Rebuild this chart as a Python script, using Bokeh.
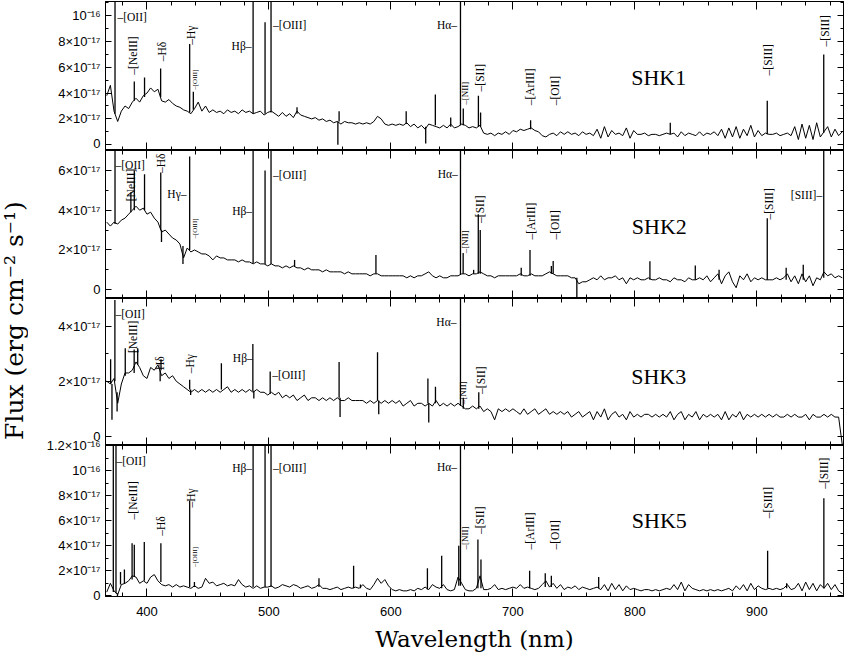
import math
from bokeh.plotting import figure
from bokeh.layouts import column, row
from bokeh.models import FixedTicker, LinearAxis, Range1d, ColumnDataSource, CustomLabelingPolicy
from bokeh.core.properties import value
from bokeh.embed import file_html
from bokeh.resources import INLINE

# ---------------- data (flux in units of 1e-17 erg cm^-2 s^-1) ----------------
WAVELENGTH = [
    367, 370, 373, 376, 379, 382, 385, 388, 391, 394,
    397, 400, 403, 406, 409, 412, 415, 418, 421, 424,
    427, 430, 433, 436, 439, 442, 445, 448, 451, 454,
    457, 460, 463, 466, 469, 472, 475, 478, 481, 484,
    487, 490, 493, 496, 499, 502, 505, 508, 511, 514,
    517, 520, 523, 526, 529, 532, 535, 538, 541, 544,
    547, 550, 553, 556, 559, 562, 565, 568, 571, 574,
    577, 580, 583, 586, 589, 592, 595, 598, 601, 604,
    607, 610, 613, 616, 619, 622, 625, 628, 631, 634,
    637, 640, 643, 646, 649, 652, 655, 658, 661, 664,
    667, 670, 673, 676, 679, 682, 685, 688, 691, 694,
    697, 700, 703, 706, 709, 712, 715, 718, 721, 724,
    727, 730, 733, 736, 739, 742, 745, 748, 751, 754,
    757, 760, 763, 766, 769, 772, 775, 778, 781, 784,
    787, 790, 793, 796, 799, 802, 805, 808, 811, 814,
    817, 820, 823, 826, 829, 832, 835, 838, 841, 844,
    847, 850, 853, 856, 859, 862, 865, 868, 871, 874,
    877, 880, 883, 886, 889, 892, 895, 898, 901, 904,
    907, 910, 913, 916, 919, 922, 925, 928, 931, 934,
    937, 940, 943, 946, 949, 952, 955, 958, 961, 964,
    967, 970]

FLUX_SHK1 = [
    3.8, 4.6, 2.6, 1.8, 2.6, 3.0, 2.8, 3.3, 3.6, 3.3,
    3.8, 4.0, 4.4, 4.1, 4.3, 3.4, 3.3, 3.5, 3.2, 3.0,
    2.9, 2.7, 2.6, 2.4, 2.8, 3.3, 2.6, 3.0, 2.5, 2.7,
    2.5, 2.6, 2.4, 2.7, 2.5, 2.6, 2.4, 2.7, 2.5, 2.6,
    2.4, 2.5, 2.6, 2.3, 2.5, 2.6, 2.4, 2.2, 2.5, 2.2,
    2.4, 2.1, 2.6, 2.3, 2.2, 2.1, 2.0, 2.1, 1.9, 2.0,
    1.8, 1.9, 1.7, 1.8, 1.6, 1.8, 1.7, 1.7, 1.6, 1.7,
    1.6, 1.7, 1.6, 1.8, 2.2, 2.0, 1.6, 1.5, 1.6, 1.5,
    1.6, 1.5, 1.7, 1.4, 1.6, 1.3, 1.5, 1.2, 1.6, 1.5,
    1.4, 1.3, 1.5, 1.3, 1.6, 1.3, 1.4, 1.6, 1.5, 1.3,
    1.4, 1.3, 1.5, 0.9, 0.8, 0.9, 0.7, 0.9, 0.8, 1.0,
    0.8, 1.1, 1.0, 1.2, 1.1, 1.2, 1.3, 1.1, 1.0, 0.7,
    0.6, 0.8, 0.9, 0.7, 1.0, 0.8, 1.0, 0.8, 0.9, 0.7,
    1.0, 0.8, 0.9, 0.7, 1.2, 0.5, 1.4, 0.6, 1.1, 0.8,
    0.9, 0.7, 1.3, 0.5, 1.1, 0.8, 0.8, 0.9, 0.7, 0.8,
    0.8, 0.7, 0.8, 0.9, 0.8, 0.9, 0.6, 1.0, 0.7, 0.9,
    0.8, 0.7, 1.0, 0.7, 0.9, 0.8, 1.0, 0.7, 1.2, 0.5,
    1.3, 0.6, 1.4, 0.5, 1.2, 0.7, 1.5, 0.6, 1.1, 0.7,
    0.9, 0.8, 0.8, 0.9, 0.7, 0.8, 0.9, 0.7, 1.4, 0.4,
    1.6, 0.5, 1.5, 0.4, 1.7, 0.6, 1.0, 1.4, 0.6, 1.2,
    0.7, 1.0]

FLUX_SHK2 = [
    3.4, 3.2, 3.4, 3.3, 3.5, 3.6, 3.8, 4.0, 4.2, 4.0,
    4.1, 3.8, 3.9, 3.6, 3.4, 2.9, 3.0, 2.8, 2.6, 2.5,
    2.3, 1.6, 2.1, 1.9, 2.0, 1.9, 1.8, 1.8, 1.7, 1.5,
    1.7, 1.6, 1.6, 1.5, 1.5, 1.5, 1.4, 1.5, 1.4, 1.4,
    1.3, 1.4, 1.3, 1.3, 1.2, 1.3, 1.2, 1.2, 1.1, 1.2,
    1.1, 1.2, 1.1, 1.1, 1.0, 1.1, 1.0, 1.0, 1.0, 0.9,
    1.0, 0.9, 0.9, 0.9, 0.9, 0.8, 0.9, 0.8, 0.8, 0.8,
    0.8, 0.8, 0.7, 0.8, 0.8, 0.7, 0.7, 0.7, 0.7, 0.7,
    0.7, 0.7, 0.6, 0.7, 0.6, 0.7, 0.7, 0.8, 0.9, 0.7,
    0.6, 0.7, 0.6, 0.6, 0.7, 0.7, 0.7, 0.8, 0.8, 0.7,
    0.8, 0.8, 0.9, 0.8, 0.7, 0.7, 0.6, 0.7, 0.7, 0.7,
    0.7, 0.7, 0.7, 0.8, 0.7, 0.7, 0.8, 0.7, 0.7, 0.7,
    0.8, 0.9, 0.8, 0.7, 0.7, 0.7, 0.7, 0.6, 0.6, 0.3,
    0.4, 0.4, 0.5, 0.6, 0.5, 0.7, 0.5, 0.6, 0.6, 0.7,
    0.5, 0.6, 0.3, 0.6, 0.5, 0.6, 0.5, 0.5, 0.6, 0.5,
    0.5, 0.6, 0.5, 0.5, 0.4, 0.6, 0.5, 0.5, 0.4, 0.6,
    0.5, 0.5, 0.6, 0.5, 0.7, 0.4, 0.6, 0.8, 0.3, 0.7,
    0.9, 0.4, 0.1, 0.7, 0.5, 0.8, 0.4, 0.6, 0.5, 0.6,
    0.5, 0.5, 0.5, 0.6, 0.5, 0.6, 0.8, 0.4, 0.7, 0.3,
    0.8, 0.4, 0.7, 0.2, 0.6, 0.5, 0.9, 0.7, 0.8, 0.6,
    0.7, 0.6]

FLUX_SHK3 = [
    2.0, 1.9, 2.1, 1.2, 1.9, 2.3, 2.3, 2.4, 2.7, 2.5,
    2.2, 2.1, 2.5, 2.4, 2.6, 2.2, 2.3, 2.1, 2.2, 2.0,
    1.9, 1.8, 1.7, 1.6, 1.7, 1.6, 1.7, 1.6, 1.7, 1.6,
    1.7, 1.6, 1.7, 1.8, 1.6, 1.7, 1.6, 1.7, 1.6, 1.7,
    1.6, 1.7, 1.6, 1.6, 1.5, 1.6, 1.5, 1.6, 1.4, 1.5,
    1.4, 1.5, 1.3, 1.4, 1.5, 1.3, 1.4, 1.4, 1.3, 1.4,
    1.3, 1.4, 1.3, 1.4, 1.3, 1.3, 1.4, 1.3, 1.3, 1.3,
    1.3, 1.2, 1.3, 1.2, 1.3, 1.2, 1.3, 1.2, 1.3, 1.2,
    1.3, 1.1, 1.2, 1.3, 1.1, 1.2, 1.2, 1.1, 1.2, 1.1,
    1.3, 1.1, 1.2, 1.1, 1.2, 1.1, 1.2, 1.1, 1.0, 1.0,
    1.1, 1.0, 1.1, 0.9, 1.0, 0.9, 0.6, 1.0, 0.9, 1.0,
    0.9, 1.0, 0.9, 0.8, 1.0, 0.8, 0.9, 1.0, 0.8, 0.9,
    1.0, 0.8, 0.9, 0.8, 0.9, 0.8, 0.9, 0.7, 0.8, 0.9,
    0.7, 0.8, 0.9, 0.6, 0.9, 0.7, 1.0, 0.6, 0.8, 0.9,
    0.7, 0.8, 0.6, 0.9, 0.7, 0.8, 0.7, 0.8, 0.8, 0.7,
    0.8, 0.7, 0.8, 0.7, 0.9, 0.6, 0.8, 0.9, 0.6, 0.8,
    0.7, 0.9, 0.6, 0.8, 0.7, 0.8, 0.7, 0.8, 0.6, 0.9,
    0.6, 0.8, 0.7, 0.9, 0.6, 0.8, 0.7, 0.8, 0.7, 0.8,
    0.7, 0.8, 0.7, 0.8, 0.7, 0.7, 0.8, 0.7, 0.8, 0.7,
    0.7, 0.8, 0.6, 0.8, 0.7, 0.7, 0.8, 0.7, 0.8, 0.7,
    0.7, -0.3]

FLUX_SHK5 = [
    0.3, 1.0, 0.4, 0.1, 0.9, 1.0, 1.2, 1.6, 1.5, 1.0,
    1.2, 1.0, 1.5, 1.7, 1.2, 0.9, 0.8, 0.9, 0.7, 0.9,
    0.7, 0.8, 0.7, 0.6, 0.8, 0.6, 0.7, 1.4, 1.0, 1.1,
    0.8, 0.9, 1.0, 0.8, 0.9, 0.8, 1.3, 0.9, 0.7, 0.8,
    0.6, 0.8, 0.6, 0.7, 0.7, 0.8, 0.6, 0.7, 0.9, 0.8,
    0.7, 0.9, 0.8, 0.6, 0.7, 0.8, 0.6, 0.7, 0.9, 0.6,
    0.6, 0.5, 0.6, 0.7, 0.5, 0.6, 0.7, 0.6, 0.7, 0.6,
    0.9, 0.6, 0.5, 0.9, 1.4, 1.0, 1.3, 0.8, 0.5, 0.4,
    0.5, 0.4, 0.4, 0.5, 0.4, 0.6, 0.5, 0.7, 0.5, 0.9,
    0.7, 0.6, 0.9, 0.5, 0.4, 0.5, 1.5, 1.0, 0.5, 0.4,
    0.4, 0.6, 1.6, 0.5, 0.5, 0.6, 0.9, 0.5, 0.6, 0.5,
    0.6, 0.7, 0.6, 0.9, 0.6, 0.7, 0.6, 0.5, 0.6, 0.9,
    1.2, 0.7, 1.0, 0.6, 0.9, 0.5, 0.7, 0.6, 0.8, 0.5,
    0.7, 0.6, 0.5, 0.6, 0.7, 0.5, 0.9, 0.4, 1.0, 0.5,
    0.9, 0.4, 0.8, 0.5, 0.6, 0.5, 0.4, 0.5, 0.5, 0.4,
    0.5, 0.4, 0.5, 0.6, 0.5, 0.9, 0.5, 1.1, 0.4, 0.9,
    0.6, 0.5, 0.4, 0.5, 0.4, 0.5, 0.4, 0.5, 0.4, 0.5,
    0.6, 0.4, 0.8, 0.5, 0.9, 0.4, 1.0, 0.5, 0.8, 0.6,
    0.5, 0.6, 0.5, 0.6, 0.5, 0.6, 0.9, 0.5, 0.6, 1.0,
    0.4, 1.1, 0.5, 1.0, 0.4, 0.9, 0.6, 1.0, 0.5, 0.9,
    0.4, 0.2]

# narrow emission lines / spikes: wavelength, continuum base, peak (20 = off scale)
LINE_WL_SHK1 = [373.8, 389.6, 398.0, 411.2, 435.0, 438.0, 487.0, 496.8, 501.7, 523.0,
                556.5, 557.5, 612.5, 628.5, 636.4, 649.0, 657.0, 659.3, 671.7, 673.5,
                714.5, 829.0, 908.5, 954.8]
LINE_BASE_SHK1 = [2.4, 3.4, 3.7, 3.7, 2.5, 2.7, 2.4, 2.4, 2.5, 2.4,
                  1.8, 1.8, 1.6, 1.4, 1.5, 1.4, 1.5, 1.5, 1.4, 1.4,
                  1.2, 0.8, 0.8, 0.9]
LINE_PEAK_SHK1 = [20, 4.9, 5.2, 5.9, 7.8, 4.1, 20, 9.5, 20, 2.9,
                  0.0, 2.6, 2.6, 0.1, 3.9, 2.1, 20, 2.8, 3.8, 2.5,
                  1.9, 1.7, 3.4, 7.0]

LINE_WL_SHK2 = [373.8, 386.8, 389.6, 398.0, 411.3, 411.9, 429.5, 435.0, 487.0, 496.8,
                501.7, 521.0, 587.7, 657.0, 659.2, 667.8, 671.6, 673.2, 706.8, 714.0,
                731.5, 733.0, 752.4, 812.3, 849.5, 869.0, 908.5, 924.0, 938.0, 954.8]
LINE_BASE_SHK2 = [3.3, 3.9, 4.0, 4.0, 3.0, 3.0, 2.2, 2.0, 1.35, 1.3,
                  1.3, 1.15, 0.8, 0.75, 0.8, 0.8, 0.8, 0.8, 0.7, 0.7,
                  0.8, 0.8, 0.6, 0.5, 0.5, 0.5, 0.5, 0.5, 0.5, 0.6]
LINE_PEAK_SHK2 = [20, 4.9, 6.0, 5.8, 5.9, 2.4, 1.3, 6.7, 20, 6.0,
                  20, 1.5, 1.75, 20, 1.85, 1.0, 3.8, 3.0, 1.1, 2.0,
                  1.2, 1.45, -0.6, 1.43, 1.22, 1.0, 3.6, 1.1, 1.26, 20]

LINE_WL_SHK3 = [370.2, 371.3, 373.7, 375.5, 382.2, 389.5, 392.4, 410.8, 411.5, 435.0,
                435.8, 461.0, 486.8, 487.6, 501.0, 557.5, 558.3, 589.0, 590.0, 630.3,
                631.0, 636.5, 657.0, 659.3, 672.0]
LINE_BASE_SHK3 = [1.9, 1.9, 2.0, 1.6, 2.2, 2.3, 2.6, 2.4, 2.4, 1.7,
                  1.7, 1.7, 1.65, 1.65, 1.55, 1.4, 1.4, 1.3, 1.3, 1.2,
                  1.2, 1.2, 1.1, 1.0, 1.0]
LINE_PEAK_SHK3 = [2.8, 0.6, 4.95, 0.9, 3.2, 3.15, 3.2, 2.0, 2.8, 2.05,
                  1.5, 2.65, 3.35, 1.37, 2.35, 2.7, 0.7, 3.05, 0.8, 2.1,
                  0.5, 1.8, 20, 1.4, 1.6]

LINE_WL_SHK5 = [372.4, 374.6, 375.8, 378.3, 381.5, 387.8, 389.6, 397.8, 411.4, 435.0,
                438.9, 487.0, 496.8, 501.7, 541.0, 569.4, 575.0, 629.9, 641.6, 655.6,
                657.0, 671.3, 673.8, 713.7, 726.5, 731.5, 770.3, 908.8, 924.4, 954.9]
LINE_BASE_SHK5 = [0.3, 0.2, 0.2, 0.9, 1.0, 1.3, 1.5, 1.2, 1.1, 0.7,
                  0.7, 0.7, 0.7, 0.7, 0.7, 0.6, 0.6, 0.5, 0.6, 0.8,
                  0.8, 0.6, 0.6, 0.6, 0.7, 0.7, 0.6, 0.6, 0.6, 0.6]
LINE_PEAK_SHK5 = [20, 20, -0.1, 1.9, 2.1, 4.2, 4.07, 4.3, 4.2, 7.6,
                  1.1, 20, 20, 20, 1.4, 2.4, 0.9, 2.2, 3.2, 4.0,
                  20, 4.5, 2.9, 2.0, 1.8, 1.6, 1.5, 3.6, 1.0, 7.8]

# line identifications: text, wavelength, flux, kind
ANNOT_SHK1 = [
    ("–[OII]", 375.8, 9.87, "hl"), ("–[NeIII]", 388.4, 5.43, "v"),
    ("–Hδ", 412.2, 6.46, "v"), ("–Hγ", 435.7, 7.75, "v"),
    ("–[OIII]", 439.2, 4.26, "vs"), ("Hβ–", 485.7, 7.67, "hr"),
    ("–[OIII]", 503.4, 9.3, "hl"), ("Hα–", 654.2, 9.25, "hr"),
    ("–[NII]", 660.5, 3.1, "vn"), ("–[SII]", 673.4, 4.13, "v"),
    ("–[ArIII]", 714.4, 3.05, "v"), ("–[OII]", 734.3, 3.05, "v"),
    ("–[SIII]", 908.9, 5.37, "v"), ("–[SIII]", 955.6, 7.62, "v"),
    ("SHK1", 819.5, 5.2, "name")]
ANNOT_SHK2 = [
    ("–[OII]", 374.2, 6.26, "hl"), ("[NeIII]", 386.5, 4.45, "v"),
    ("–Hδ", 411.6, 5.87, "v"), ("Hγ–", 432.4, 4.79, "hr"),
    ("–[OIII]", 439.0, 2.57, "vs"), ("Hβ–", 486.2, 3.98, "hr"),
    ("–[OIII]", 503.4, 5.79, "hl"), ("Hα–", 654.8, 5.82, "hr"),
    ("–[NII]", 660.5, 1.84, "vn"), ("–[SII]", 673.4, 3.36, "v"),
    ("–[ArIII]", 714.9, 2.52, "v"), ("–[OII]", 734.9, 2.52, "v"),
    ("–[SIII]", 909.7, 3.53, "v"), ("[SIII]–", 953.5, 4.74, "hr"),
    ("SHK2", 820.0, 3.19, "name")]
ANNOT_SHK3 = [
    ("–[OII]", 374.2, 4.45, "hl"), ("[NeIII]", 388.7, 3.02, "v"),
    ("Hδ", 410.6, 2.41, "v"), ("–Hγ", 435.1, 2.29, "v"),
    ("Hβ–", 486.7, 2.84, "hr"), ("–[OIII]", 502.6, 2.23, "hl"),
    ("Hα–", 653.7, 4.15, "hr"), ("–[NII]", 659.3, 1.17, "vn"),
    ("–[SII]", 674.2, 1.54, "v"),
    ("SHK3", 819.5, 2.17, "name")]
ANNOT_SHK5 = [
    ("–[OII]", 375.0, 10.8, "hl"), ("–[NeIII]", 388.7, 6.1, "v"),
    ("–Hδ", 411.9, 4.8, "v"), ("–Hγ", 435.7, 7.05, "v"),
    ("–[OIII]", 439.2, 2.3, "vs"), ("Hβ–", 486.2, 10.2, "hr"),
    ("–[OIII]", 503.4, 10.2, "hl"), ("Hα–", 654.2, 10.3, "hr"),
    ("–[NII]", 660.7, 3.7, "vn"), ("–[SII]", 673.4, 4.94, "v"),
    ("–[ArIII]", 714.0, 3.7, "v"), ("–[OII]", 734.5, 3.7, "v"),
    ("–[SIII]", 908.9, 6.19, "v"), ("–[SIII]", 955.2, 8.54, "v"),
    ("SHK5", 820.0, 6.05, "name")]

X_MAJOR = [400, 500, 600, 700, 800, 900]
X_MINOR = [380, 400, 420, 440, 460, 480, 500, 520, 540, 560, 580, 600, 620, 640, 660,
           680, 700, 720, 740, 760, 780, 800, 820, 840, 860, 880, 900, 920, 940, 960]
Y_TICK_LABELS = {0: "0", 2: "2×10⁻¹⁷", 4: "4×10⁻¹⁷", 6: "6×10⁻¹⁷", 8: "8×10⁻¹⁷",
                 10: "10⁻¹⁶", 12: "1.2×10⁻¹⁶"}

# ---------------- styling ----------------
FW = 738
LEFT_PAD = 28
LABEL_FONT = "Liberation Serif"
TICK_FONT = "Liberation Sans"
TITLE_FONT = "DejaVu Serif"

KIND_STYLE = {
    "hl": dict(angle=0, text_align="left", size="11.5px"),
    "hr": dict(angle=0, text_align="right", size="11.5px"),
    "v": dict(angle=math.pi / 2, text_align="left", size="11.5px"),
    "vn": dict(angle=math.pi / 2, text_align="left", size="9px"),
    "vs": dict(angle=math.pi / 2, text_align="left", size="7px"),
    "name": dict(angle=0, text_align="center", size="22px"),
}


def style_axis(ax, ticker, major_in, minor_in, labels):
    ax.ticker = ticker
    ax.major_tick_in = major_in
    ax.major_tick_out = 0
    ax.minor_tick_in = minor_in
    ax.minor_tick_out = 0
    ax.axis_line_color = "black"
    ax.major_tick_line_color = "black"
    ax.minor_tick_line_color = "black"
    if labels:
        ax.major_label_text_font = TICK_FONT
        ax.major_label_text_font_size = "13px"
        ax.major_label_text_color = "black"
    else:
        ax.major_label_text_font_size = "0px"
        ax.major_label_standoff = 0
        ax.major_label_policy = CustomLabelingPolicy(code="return []")


def make_panel(flux, lwl, lbase, lpeak, annots, y0, y1, ymaj, ymin, fh,
               top_border=0, bottom_border=0, bottom=False, styles=None):
    kw = {}
    if styles:
        kw["styles"] = styles
    p = figure(frame_width=FW, frame_height=fh,
               x_range=Range1d(366, 971), y_range=Range1d(y0, y1),
               output_backend="svg", toolbar_location=None,
               min_border_left=105 - LEFT_PAD, min_border_right=1,
               min_border_top=top_border, min_border_bottom=bottom_border, **kw)
    p.grid.visible = False
    p.outline_line_color = "black"
    p.outline_line_width = 1
    p.background_fill_color = "white"
    p.border_fill_alpha = 0

    xt = FixedTicker(ticks=X_MAJOR, minor_ticks=X_MINOR)
    yt = FixedTicker(ticks=ymaj, minor_ticks=ymin)

    style_axis(p.xaxis[0], xt, 8, 4, bottom)
    if bottom:
        p.xaxis[0].major_label_standoff = 10
        p.xaxis[0].axis_label = "Wavelength (nm)"
        p.xaxis[0].axis_label_text_font = TITLE_FONT
        p.xaxis[0].axis_label_text_font_size = "23px"
        p.xaxis[0].axis_label_text_font_style = "normal"
        p.xaxis[0].axis_label_text_color = "black"
        p.xaxis[0].axis_label_standoff = 7
    style_axis(p.yaxis[0], yt, 6, 3, True)
    p.yaxis[0].major_label_standoff = 5
    p.yaxis[0].major_label_overrides = {k: Y_TICK_LABELS[k] for k in ymaj}

    top_ax = LinearAxis()
    style_axis(top_ax, FixedTicker(ticks=X_MAJOR, minor_ticks=X_MINOR), 8, 4, False)
    p.add_layout(top_ax, "above")
    right_ax = LinearAxis()
    style_axis(right_ax, FixedTicker(ticks=ymaj, minor_ticks=ymin), 6, 3, False)
    p.add_layout(right_ax, "right")

    p.line(WAVELENGTH, flux, line_color="black", line_width=1)
    p.segment(x0=lwl, y0=lbase, x1=lwl, y1=lpeak, line_color="black", line_width=1.3)

    for kind, st in KIND_STYLE.items():
        items = [a for a in annots if a[3] == kind]
        if not items:
            continue
        src = ColumnDataSource(dict(x=[a[1] for a in items], y=[a[2] for a in items],
                                    t=[a[0] for a in items]))
        p.text(x="x", y="y", text="t", source=src, angle=st["angle"],
               text_align=st["text_align"], text_baseline="middle",
               text_font=value(LABEL_FONT), text_font_size=value(st["size"]),
               text_color="black")
    return p


p1 = make_panel(FLUX_SHK1, LINE_WL_SHK1, LINE_BASE_SHK1, LINE_PEAK_SHK1, ANNOT_SHK1,
                -0.45, 11.1, [0, 2, 4, 6, 8, 10], [1, 3, 5, 7, 9, 11], 149, top_border=1)
p2 = make_panel(FLUX_SHK2, LINE_WL_SHK2, LINE_BASE_SHK2, LINE_PEAK_SHK2, ANNOT_SHK2,
                -0.44, 7.0, [0, 2, 4, 6], [1, 3, 5, 7], 148)
p3 = make_panel(FLUX_SHK3, LINE_WL_SHK3, LINE_BASE_SHK3, LINE_PEAK_SHK3, ANNOT_SHK3,
                -0.33, 5.0, [0, 2, 4], [1, 3, 5], 147)
p4 = make_panel(FLUX_SHK5, LINE_WL_SHK5, LINE_BASE_SHK5, LINE_PEAK_SHK5, ANNOT_SHK5,
                -0.05, 12.0, [0, 2, 4, 6, 8, 10, 12], [1, 3, 5, 7, 9, 11], 151,
                top_border=8, bottom_border=60, bottom=True,
                styles={"margin-top": "-8px"})

TOTAL_H = 1 + 149 + 148 + 147 + 151 + 60

# y-axis title in a narrow figure on the left
lab = figure(width=LEFT_PAD, height=TOTAL_H, x_range=Range1d(0, 1), y_range=Range1d(0, 1),
             output_backend="svg", toolbar_location=None, min_border=0)
lab.axis.visible = False
lab.grid.visible = False
lab.outline_line_color = None
lab.text(x=[0.5], y=[0.512], text=["Flux (erg cm⁻² s⁻¹)"], angle=math.pi / 2,
         text_align="center", text_baseline="middle",
         text_font=value(TITLE_FONT), text_font_size=value("25px"), text_color="black")

layout = row(lab, column(p1, p2, p3, p4, spacing=0), spacing=0)

open("out.html", "w").write(file_html(layout, INLINE))
